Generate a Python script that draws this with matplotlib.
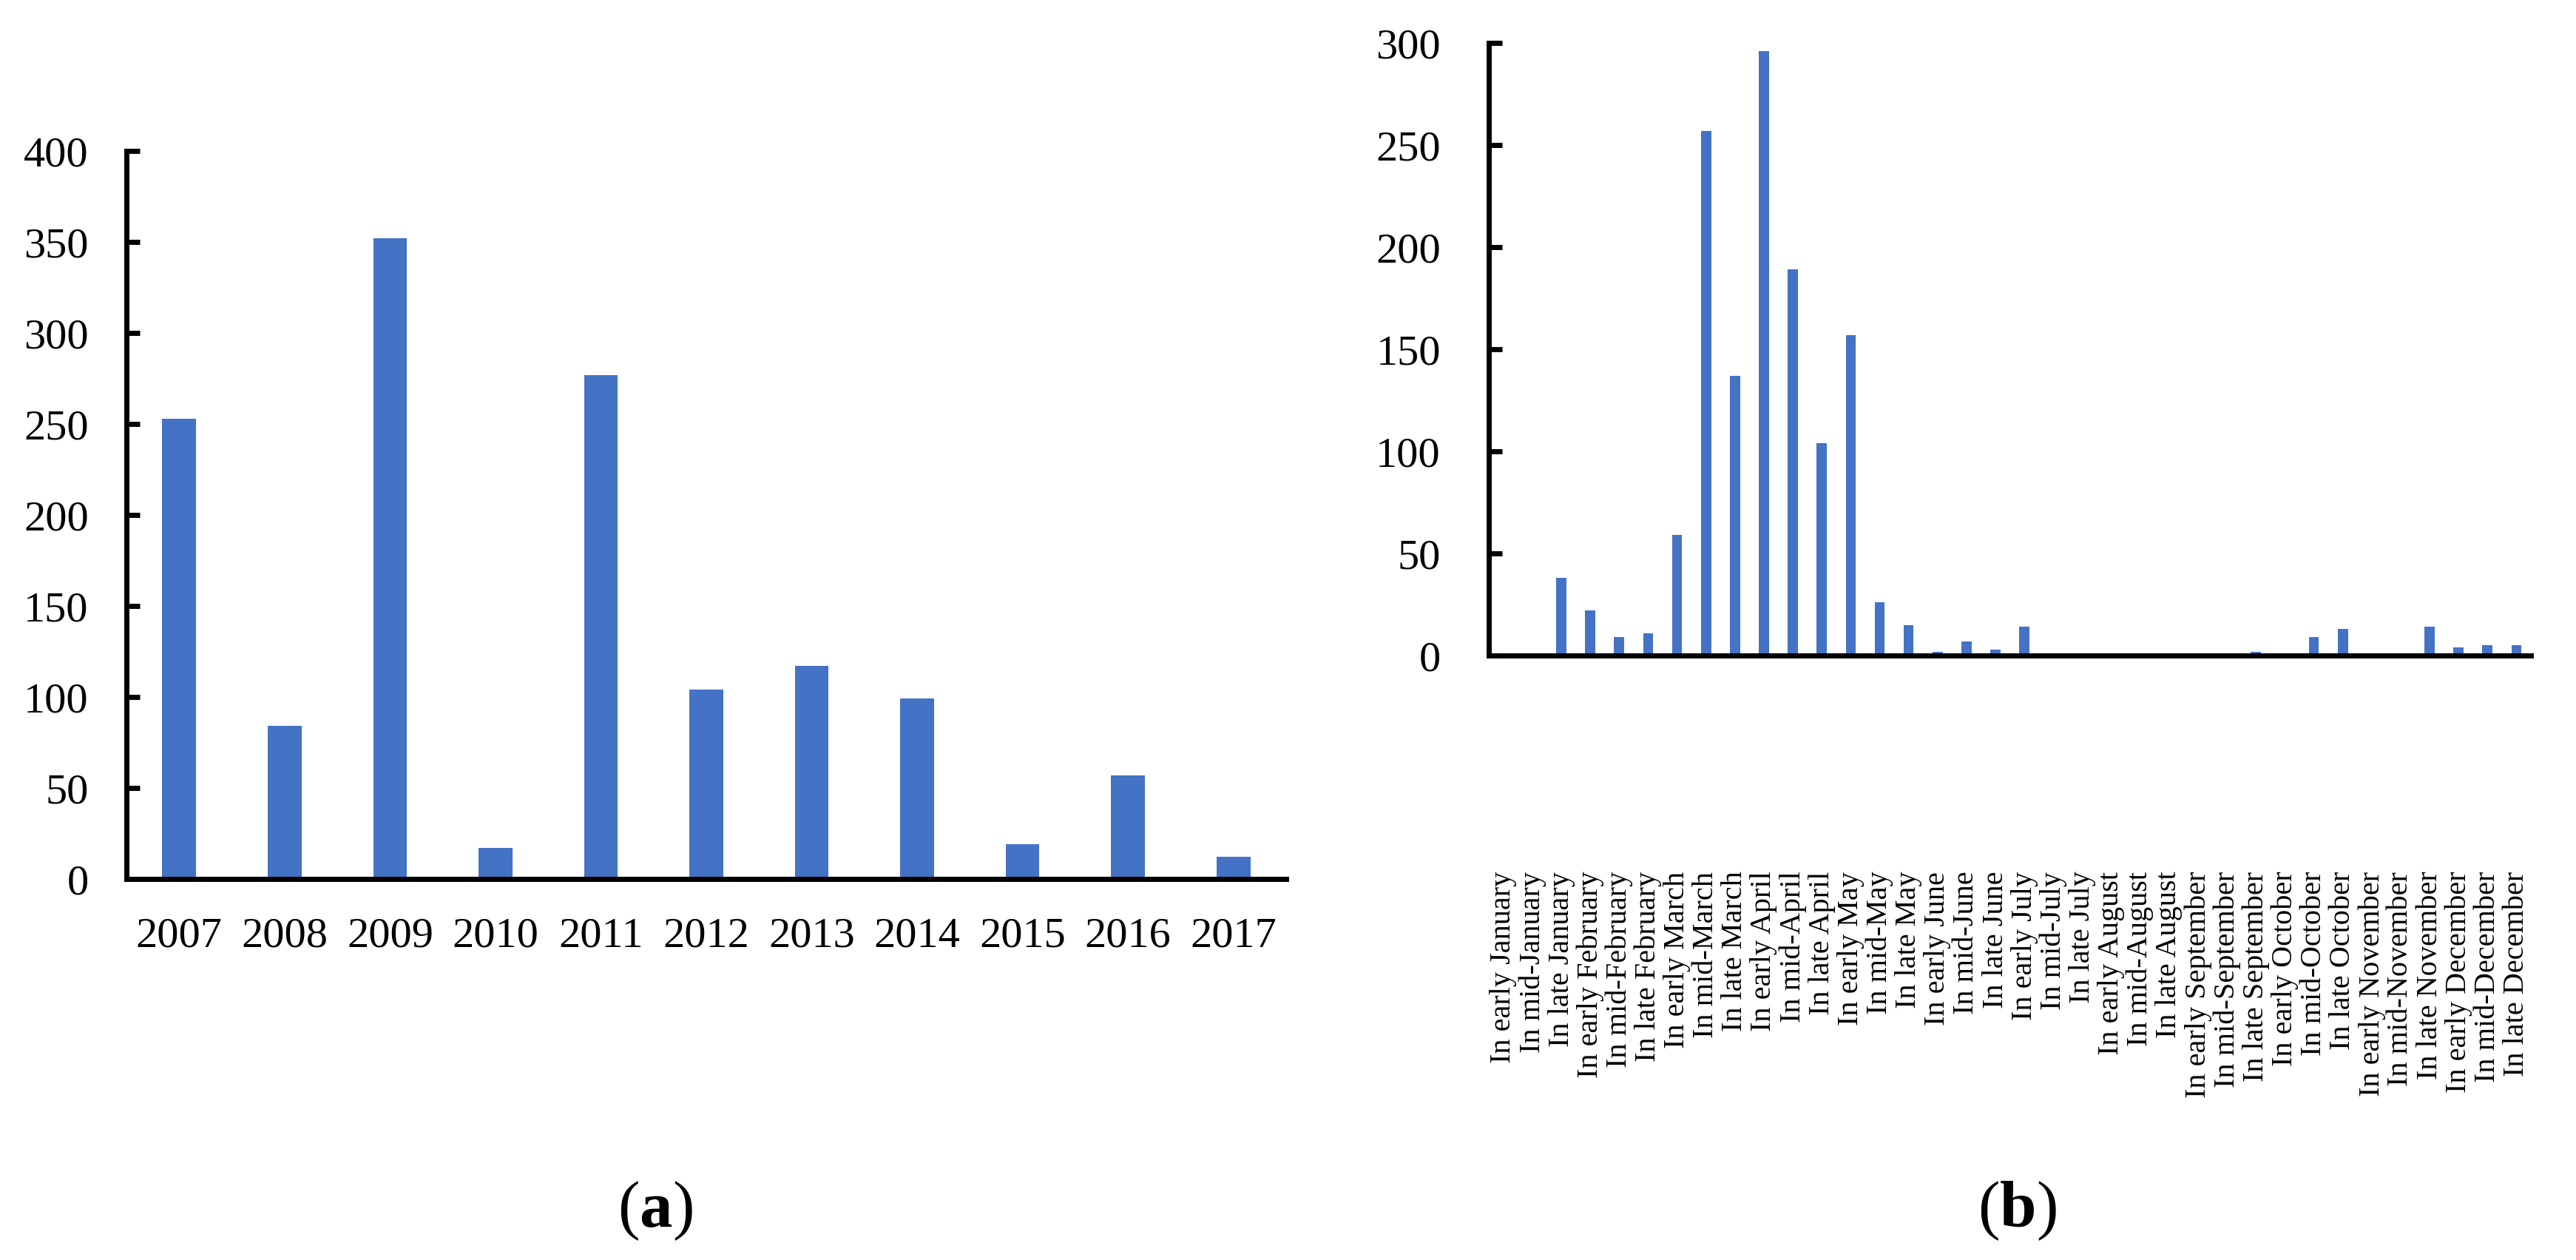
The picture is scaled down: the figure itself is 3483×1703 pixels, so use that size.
import matplotlib
matplotlib.use("Agg")
import matplotlib.pyplot as plt

plt.rcParams['font.family'] = ['Liberation Serif', 'DejaVu Serif']
plt.rcParams['mathtext.fontset'] = 'custom'
plt.rcParams['mathtext.rm'] = 'Liberation Serif'
plt.rcParams['mathtext.bf'] = 'Liberation Serif:bold'

BLUE = '#4472C4'

# (a) yearly counts
years = ['2007', '2008', '2009', '2010', '2011', '2012',
         '2013', '2014', '2015', '2016', '2017']
year_counts = [253, 84, 352, 17, 277, 104, 117, 99, 19, 57, 12]

# (b) counts per ten-day period
periods = ['In early January', 'In mid-January', 'In late January',
           'In early February', 'In mid-February', 'In late February',
           'In early March', 'In mid-March', 'In late March',
           'In early April', 'In mid-April', 'In late April',
           'In early May', 'In mid-May', 'In late May',
           'In early June', 'In mid-June', 'In late June',
           'In early July', 'In mid-July', 'In late July',
           'In early August', 'In mid-August', 'In late August',
           'In early September', 'In mid-September', 'In late September',
           'In early October', 'In mid-October', 'In late October',
           'In early November', 'In mid-November', 'In late November',
           'In early December', 'In mid-December', 'In late December']
period_counts = [0, 0, 38, 22, 9, 11, 59, 257, 137, 296, 189, 104,
                 157, 26, 15, 2, 7, 3, 14, 0, 0, 0, 0, 0,
                 0, 0, 2, 0, 9, 13, 0, 0, 14, 4, 5, 5]

fig = plt.figure(figsize=(34.83, 17.03), dpi=100)


def style(ax, ypad):
    for s in ['top', 'right']:
        ax.spines[s].set_visible(False)
    for s in ['left', 'bottom']:
        ax.spines[s].set_linewidth(5)
    ax.tick_params(axis='y', direction='in', length=13, width=5,
                   labelsize=42, pad=ypad)


# panel (a)
ax1 = fig.add_axes([0.0491, 0.3024, 0.4502, 0.5778])
ax1.bar(range(len(years)), year_counts, width=0.32, color=BLUE)
ax1.set_xlim(-0.5, len(years) - 0.5)
ax1.set_ylim(0, 400)
ax1.set_yticks(range(0, 401, 50))
ax1.set_xticks(range(len(years)))
ax1.set_xticklabels(years)
style(ax1, 37)
ax1.tick_params(axis='x', length=0, labelsize=42, pad=37)

# panel (b)
ax2 = fig.add_axes([0.5780, 0.4797, 0.4045, 0.4862])
ax2.bar(range(len(periods)), period_counts, width=0.35, color=BLUE)
ax2.set_xlim(-0.5, len(periods) - 0.5)
ax2.set_ylim(0, 300)
ax2.set_yticks(range(0, 301, 50))
ax2.set_xticks(range(len(periods)))
ax2.set_xticklabels(periods, rotation=90)
style(ax2, 47)
ax2.tick_params(axis='x', length=0, labelsize=29, pad=210)

fig.text(0.2544, 0.0388, r'($\mathbf{a}$)', ha='center', va='center', fontsize=64)
fig.text(0.783, 0.0388, r'($\mathbf{b}$)', ha='center', va='center', fontsize=64)

fig.savefig('out.png', dpi=100)
